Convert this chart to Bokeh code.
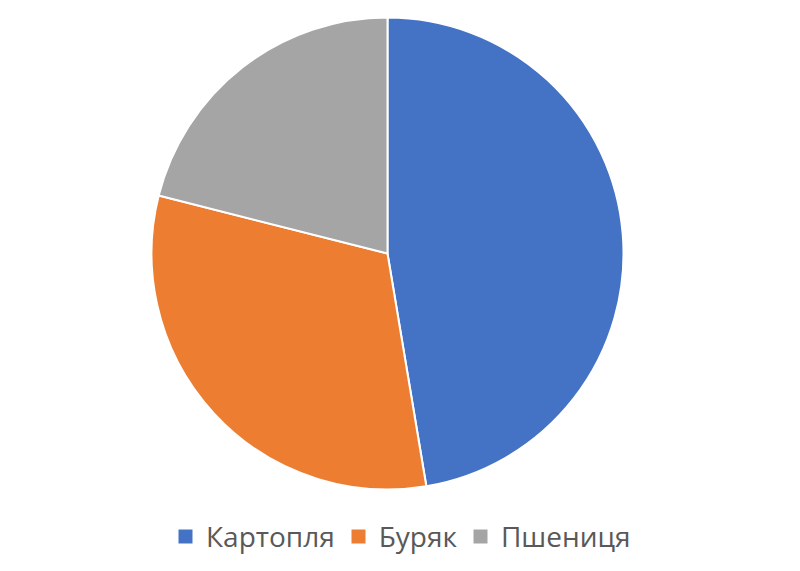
import math
from bokeh.plotting import figure
from bokeh.models import ColumnDataSource, Range1d, Legend, LegendItem
from bokeh.embed import file_html
from bokeh.resources import INLINE

categories = ["Картопля", "Буряк", "Пшениця"]
values = [45, 30, 20]
colors = ["#4472C4", "#ED7D31", "#A5A5A5"]

W, H = 784, 555
total = sum(values)
starts, ends = [], []
cum = 0.0
for v in values:
    a0 = cum / total * 2 * math.pi
    cum += v
    a1 = cum / total * 2 * math.pi
    starts.append(math.pi / 2 - a1)
    ends.append(math.pi / 2 - a0)

src = ColumnDataSource(dict(cat=categories, val=values, color=colors,
                            start=starts, end=ends))

p = figure(width=W, height=H, output_backend="svg", toolbar_location=None,
           x_range=Range1d(0, W), y_range=Range1d(0, H), min_border=0)
p.axis.visible = False
p.grid.visible = False
p.outline_line_color = None
p.background_fill_color = "white"

cx, cy, r = 387, H - 253, 236
wr = p.wedge(x=cx, y=cy, radius=r, start_angle="start", end_angle="end",
             direction="anticlock", fill_color="color", line_color="white",
             line_width=2, source=src)

items = [LegendItem(label=c, renderers=[wr], index=i) for i, c in enumerate(categories)]
legend = Legend(items=items, orientation="horizontal", location=(175, 0),
                glyph_width=20, glyph_height=20, label_standoff=11, spacing=13,
                padding=0, margin=0, border_line_color=None,
                background_fill_alpha=0,
                label_text_font="Open Sans", label_text_font_size="28px",
                label_text_color="#595959")
p.add_layout(legend, "center")

open("out.html", "w").write(file_html(p, INLINE))
